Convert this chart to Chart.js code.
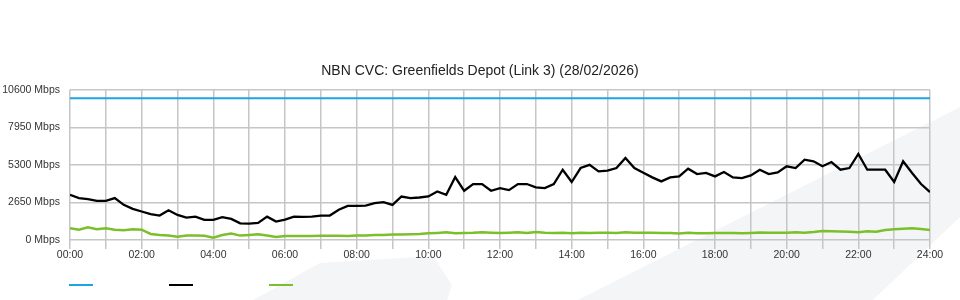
<!DOCTYPE html>
<html>
<head>
<meta charset="utf-8">
<title>NBN CVC</title>
<script src="https://cdn.jsdelivr.net/npm/chart.js@4.4.1/dist/chart.umd.min.js"></script>
<style>
  body { margin: 0; background: #fff; }
  #wrap { position: relative; width: 960px; height: 300px; overflow: hidden; }
  .shape { position: absolute; left: 0; top: 0; width: 960px; height: 300px; background: #f4f5f7; }
  #band1 { clip-path: polygon(578px 300px, 960px 107px, 960px 217px, 873px 300px); }
  #band2 { clip-path: polygon(253px 300px, 320px 263px, 433px 256px, 452px 285px, 447px 300px); }
  #myChart { position: absolute; left: 0; top: 0; }
  #legend { position: absolute; left: 69px; top: 284px; display: flex; }
  #legend span { display: block; width: 24px; height: 2px; margin-right: 76px; }
</style>
</head>
<body>
<div id="wrap">
  <div class="shape" id="band1"></div>
  <div class="shape" id="band2"></div>
  <canvas id="myChart" width="960" height="300"></canvas>
  <div id="legend"></div>
</div>
<script>
// sample times (15 min)
const timeLabels = [
  '00:00','00:15','00:30','00:45','01:00','01:15','01:30','01:45',
  '02:00','02:15','02:30','02:45','03:00','03:15','03:30','03:45',
  '04:00','04:15','04:30','04:45','05:00','05:15','05:30','05:45',
  '06:00','06:15','06:30','06:45','07:00','07:15','07:30','07:45',
  '08:00','08:15','08:30','08:45','09:00','09:15','09:30','09:45',
  '10:00','10:15','10:30','10:45','11:00','11:15','11:30','11:45',
  '12:00','12:15','12:30','12:45','13:00','13:15','13:30','13:45',
  '14:00','14:15','14:30','14:45','15:00','15:15','15:30','15:45',
  '16:00','16:15','16:30','16:45','17:00','17:15','17:30','17:45',
  '18:00','18:15','18:30','18:45','19:00','19:15','19:30','19:45',
  '20:00','20:15','20:30','20:45','21:00','21:15','21:30','21:45',
  '22:00','22:15','22:30','22:45','23:00','23:15','23:30','23:45',
  '24:00'
];

const inboundMbps = [
  3190, 2955, 2885, 2765, 2765, 2955, 2480, 2200,
  2010, 1820, 1725, 2100, 1770, 1580, 1650, 1420,
  1420, 1610, 1490, 1180, 1160, 1200, 1650, 1300,
  1440, 1650, 1630, 1650, 1725, 1725, 2130, 2410,
  2410, 2430, 2600, 2670, 2480, 3070, 2955, 3000,
  3070, 3425, 3190, 4445, 3475, 3950, 3950, 3475,
  3660, 3520, 3950, 3950, 3710, 3660, 3950, 4960,
  4090, 5080, 5300, 4840, 4890, 5080, 5790, 5080,
  4750, 4420, 4135, 4420, 4490, 5030, 4650, 4730,
  4490, 4800, 4420, 4370, 4560, 4960, 4650, 4770,
  5200, 5080, 5670, 5550, 5200, 5500, 4960, 5080,
  6075, 4960, 4960, 4960, 4090, 5550, 4730, 3950,
  3380
];

const outboundMbps = [
  830, 725, 900, 760, 830, 725, 690, 760,
  725, 425, 355, 310, 236, 310, 310, 300,
  165, 355, 450, 310, 355, 400, 310, 215,
  285, 285, 285, 290, 300, 300, 300, 290,
  310, 320, 355, 360, 380, 390, 400, 420,
  470, 500, 540, 480, 500, 510, 540, 520,
  500, 520, 540, 500, 560, 520, 500, 520,
  480, 510, 500, 520, 520, 500, 540, 510,
  520, 510, 500, 500, 460, 520, 470, 480,
  500, 490, 500, 480, 500, 530, 520, 520,
  520, 540, 520, 560, 640, 620, 600, 580,
  540, 620, 580, 710, 760, 800, 830, 780,
  710
];

const capacityMbps = 10000;
const yTicks = [0, 2650, 5300, 7950, 10600];
const xTickLabels = ['00:00','02:00','04:00','06:00','08:00','10:00','12:00','14:00','16:00','18:00','20:00','22:00','24:00'];

function toHours(label) {
  const [h, m] = label.split(':').map(Number);
  return h + m / 60;
}

const hours = timeLabels.map(toHours);
const pts = vals => vals.map((v, i) => ({ x: hours[i], y: v }));

const font = { family: "'Liberation Sans', Arial, sans-serif", size: 10.5 };

const ctx = document.getElementById('myChart').getContext('2d');
const myChart = new Chart(ctx, {
  type: 'line',
  data: {
    datasets: [
      {
        label: 'Capacity',
        data: [{ x: hours[0], y: capacityMbps }, { x: hours[hours.length - 1], y: capacityMbps }],
        borderColor: '#1ea4e4',
        borderWidth: 2,
      },
      {
        label: 'Inbound',
        data: pts(inboundMbps),
        borderColor: '#000000',
        borderWidth: 2.3,
      },
      {
        label: 'Outbound',
        data: pts(outboundMbps),
        borderColor: '#7cbf2a',
        borderWidth: 2.5,
      }
    ]
  },
  options: {
    responsive: false,
    animation: false,
    elements: { point: { radius: 0 }, line: { tension: 0 } },
    layout: { padding: { top: 63, right: 0, bottom: 38, left: 0 } },
    plugins: {
      legend: { display: false },
      tooltip: { enabled: false },
      title: {
        display: true,
        text: 'NBN CVC: Greenfields Depot (Link 3) (28/02/2026)',
        color: '#222',
        font: { family: "'Liberation Sans', Arial, sans-serif", size: 14, weight: 'normal' },
        padding: { top: 0, bottom: 10 }
      }
    },
    scales: {
      x: {
        type: 'linear',
        min: 0,
        max: 24,
        afterBuildTicks: s => { s.ticks = hours.filter(h => Number.isInteger(h)).map(h => ({ value: h })); },
        afterFit: s => { s.height = 22; },
        grid: { color: '#c6c6c6', lineWidth: 1.5, tickLength: 9 },
        border: { display: false },
        ticks: {
          autoSkip: false,
          maxRotation: 0,
          padding: 0,
          color: '#333',
          font: font,
          callback: v => (v % 2 === 0 ? xTickLabels[v / 2] : '')
        }
      },
      y: {
        min: 0,
        max: 10600,
        afterBuildTicks: s => { s.ticks = yTicks.map(v => ({ value: v })); },
        afterFit: s => { s.width = 70; },
        grid: { color: '#c6c6c6', lineWidth: 1.5, drawTicks: false },
        border: { display: false },
        ticks: {
          padding: 10,
          color: '#333',
          font: font,
          callback: v => v + ' Mbps'
        }
      },
      // empty right-hand gutter so the plot ends at 24:00 while the title stays centred
      gutter: {
        position: 'right',
        afterFit: s => { s.width = 30; },
        grid: { display: false },
        border: { display: false },
        ticks: { display: false }
      }
    }
  }
});

// legend strokes, one per dataset
const legend = document.getElementById('legend');
myChart.data.datasets.forEach(ds => {
  const s = document.createElement('span');
  s.style.background = ds.borderColor;
  legend.appendChild(s);
});
</script>
</body>
</html>
